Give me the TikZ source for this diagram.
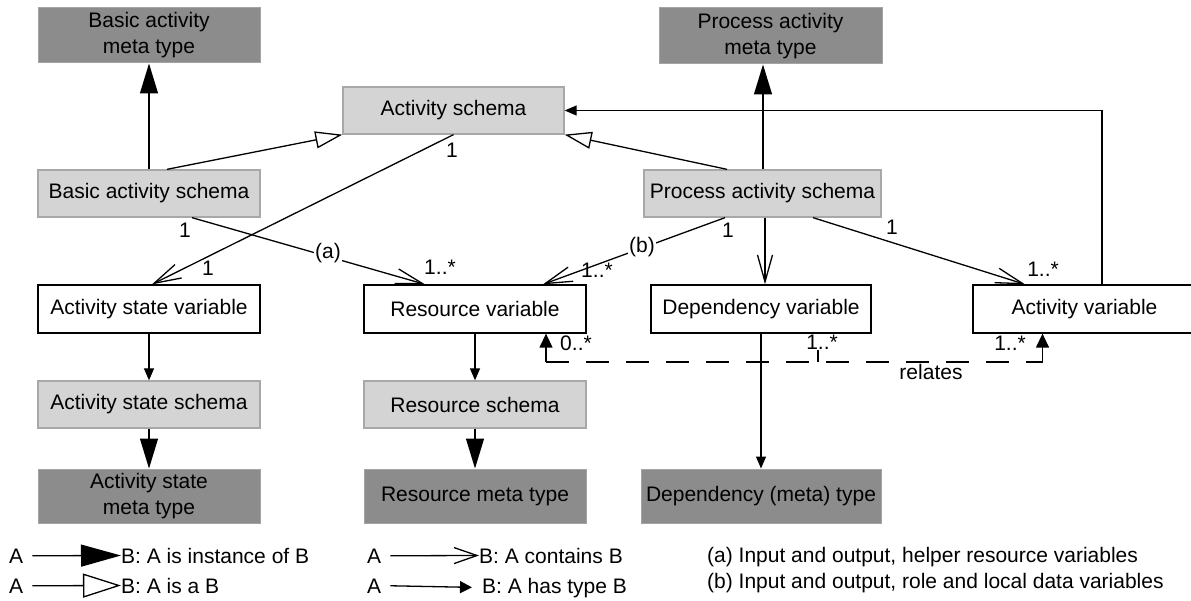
\documentclass[tikz,border=0pt]{standalone}
\usepackage{fontspec}
\setmainfont{Liberation Sans}
\usetikzlibrary{arrows.meta}
\definecolor{lightfill}{HTML}{D4D4D4}
\definecolor{lightedge}{HTML}{A8A8A8}
\definecolor{darkfill}{HTML}{8C8C8C}
\definecolor{darkedge}{HTML}{A4A4A4}
\begin{document}
\begin{tikzpicture}[x=1pt,y=-1pt,
  every node/.style={font=\fontsize{21}{26}\selectfont, inner sep=0pt},
  box/.style={rectangle, minimum height=47pt, minimum width=222pt, line width=1.3pt, align=center},
  wbox/.style={box, draw=black, fill=white},
  lbox/.style={box, draw=lightedge, fill=lightfill},
  dbox/.style={box, draw=darkedge, fill=darkfill, line width=1pt},
  conn/.style={line width=1.3pt},
  inst/.style={conn, -{Triangle[length=30pt,width=18pt]}},
  isa/.style={conn, -{Triangle[length=27pt,width=17pt,fill=white]}},
  cont/.style={conn, -{Straight Barb[length=27pt,width=15pt]}},
  htype/.style={conn, -{Triangle[length=12pt,width=10pt]}},
  relend/.style={conn, -{Triangle[length=14pt,width=13pt]}},
  rel/.style={conn, dash pattern=on 23pt off 17pt},
  mult/.style={},
  wlab/.style={fill=white, inner sep=1pt},
  legtxt/.style={anchor=base west}
]
\path[use as bounding box] (0,0) rectangle (1191,601);
\clip (0,0) rectangle (1191,601);

% nodes
\node[dbox, minimum height=55pt] (bamt) at (149,35.5) {Basic activity\\meta type};
\node[dbox, minimum height=56pt, minimum width=223pt] (pamt) at (770.5,36) {Process activity\\meta type};
\node[lbox, minimum width=221pt] (as) at (453.5,110.5) {Activity schema};
\node[lbox] (bas) at (149,193.5) {Basic activity schema};
\node[lbox, minimum width=237pt] (pas) at (762.5,193.5) {Process activity schema};
\node[wbox, minimum height=48pt] (asv) at (149,309) {Activity state variable};
\node[wbox, minimum height=48pt] (rv) at (475,309) {Resource variable};
\node[wbox, minimum height=48pt, minimum width=220pt] (dv) at (761,309) {Dependency variable};
\node[wbox, minimum height=48pt, minimum width=223pt] (av) at (1084.5,309) {Activity variable};
\node[lbox] (ass) at (149,404.5) {Activity state schema};
\node[lbox] (rs) at (475,404.5) {Resource schema};
\node[dbox, minimum height=54pt] (asmt) at (149,496) {Activity state\\meta type};
\node[dbox, minimum height=54pt] (rmt) at (475,496) {Resource meta type};
\node[dbox, minimum height=54pt, minimum width=240pt] (dmt) at (761,496) {Dependency (meta) type};

% upper connectors
\draw[inst] (bas.north) -- (bamt.south);
\draw[isa] ([xshift=18pt]bas.north) -- (as.south west);
\draw[isa] ([xshift=-35.5pt]pas.north) -- (as.south east);
\draw[inst] ([xshift=0.5pt]pas.north) -- ([xshift=0.5pt]pas.north |- pamt.south);
\draw[htype] ([xshift=17.5pt]av.north) |- (as.east);

\draw[cont] (as.south) -- ([xshift=3pt]asv.north);
\node[mult] (m1) at (452,150) {1};
\node[mult] (m2) at (208,268) {1};

\draw[cont] ([xshift=43pt]bas.south) -- ([xshift=-50pt]rv.north);
\node[mult] (m3) at (185,230) {1};
\node[wlab] (la) at (328,253) {(a)};
\node[mult] (m4) at (440,267) {1..*};

\draw[cont] ([xshift=-37.5pt]pas.south) -- ([xshift=68pt]rv.north);
\node[mult] (m5) at (728,230) {1};
\node[wlab] (lb) at (642,247) {(b)};
\node[mult] (m6) at (597,270) {1..*};

\draw[cont] ([xshift=2.5pt]pas.south) -- ([xshift=2.5pt]pas.south |- dv.north);

\draw[cont] ([xshift=50.5pt]pas.south) -- ([xshift=-59.5pt]av.north);
\node[mult] (m7) at (892,227) {1};
\node[mult] (m8) at (1043,269) {1..*};

% lower connectors
\draw[htype] (asv.south) -- (ass.north);
\draw[inst] (ass.south) -- (asmt.north);
\draw[htype] (rv.south) -- (rs.north);
\draw[inst] (rs.south) -- (rmt.north);
\draw[htype] (dv.south) -- (dmt.north);

% relates
\coordinate (rl) at (546,362);
\coordinate (rr) at (1042.5,362);
\draw[rel] (rl) -- (rr);
\draw[relend] (rl) -- ([xshift=71pt]rv.south);
\draw[relend] (rr) -- ([xshift=-42pt]av.south);
\coordinate (tk) at (818,362);
\draw[conn] ([xshift=57pt]dv.south) -- (tk);
\node[wlab] (m9) at (822,342) {1..*};
\node[mult] (m10) at (576,343) {0..*};
\node[mult] (m11) at (1010,343) {1..*};
\node[mult] (relt) at (931,372) {relates};

% legend
\node[legtxt] (a1) at (9,563) {A};
\node[legtxt] (b1) at (121,563) {B: A is instance of B};
\draw[conn, -{Triangle[length=40pt,width=22pt]}] ([xshift=9pt]a1.east) -- (b1.west);
\node[legtxt] (a2) at (9,593) {A};
\node[legtxt] (b2) at (121,593) {B: A is a B};
\draw[conn, -{Triangle[length=38pt,width=24pt,fill=white]}] ([xshift=9pt]a2.east) -- (b2.west);
\node[legtxt] (a3) at (367,563) {A};
\node[legtxt] (b3) at (479,563) {B: A contains B};
\draw[conn, -{Straight Barb[length=23pt,width=16pt]}] ([xshift=9pt]a3.east) -- (b3.west);
\node[legtxt] (a4) at (367,593) {A};
\node[legtxt] (b4) at (482,593) {B: A has type B};
\draw[conn, -{Triangle[length=12pt,width=12pt]}, shorten >=10pt] ([xshift=9pt]a4.east) -- (b4.west);
\node[legtxt] (na) at (707,562) {(a) Input and output, helper resource variables};
\node[legtxt] (nb) at (707,588) {(b) Input and output, role and local data variables};
\end{tikzpicture}
\end{document}
